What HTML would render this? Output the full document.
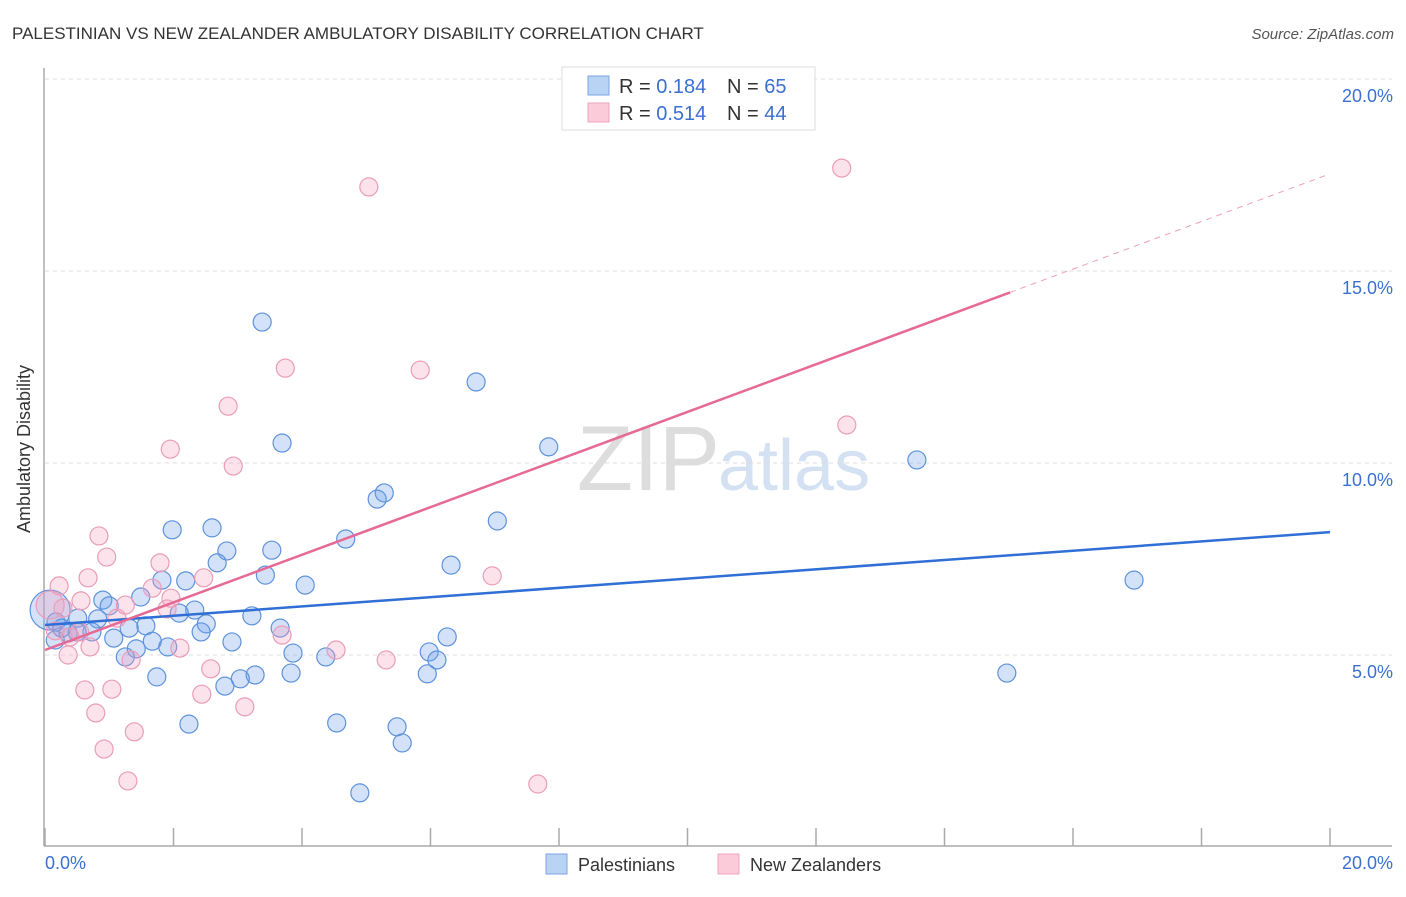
<!DOCTYPE html>
<html><head><meta charset="utf-8"><style>
body{margin:0;background:#fff;font-family:"Liberation Sans",sans-serif;}
svg text{font-family:"Liberation Sans",sans-serif;}
</style></head><body>
<svg id="chart" width="1406" height="892" xmlns="http://www.w3.org/2000/svg">
<text x="12" y="39" font-size="17" fill="#333">PALESTINIAN VS NEW ZEALANDER AMBULATORY DISABILITY CORRELATION CHART</text>
<text x="1394" y="39" font-size="15" fill="#555" font-style="italic" text-anchor="end">Source: ZipAtlas.com</text>
<text x="720" y="490" font-size="92" fill="#ddd" text-anchor="end" font-family="Liberation Serif">ZIP</text>
<text x="718" y="490" font-size="72" fill="#d3e1f3">atlas</text>
<g id="grid"></g>
<line x1="44" y1="68" x2="44" y2="846" stroke="#aaa" stroke-width="1.5"/>
<line x1="44" y1="846" x2="1392" y2="846" stroke="#aaa" stroke-width="1.5"/>
<g id="ticks"></g>
<text x="36" y="455" font-size="18" fill="#333" text-anchor="middle" transform="rotate(-90 30 455)">Ambulatory Disability</text>
<text x="45" y="869" font-size="18" fill="#3b6fd1">0.0%</text>
<text x="1393" y="869" font-size="18" fill="#3b6fd1" text-anchor="end">20.0%</text>
<g id="points"></g>
<g id="lines"></g>
<g>
<rect x="562" y="67" width="253" height="63" fill="#fff" stroke="#ddd"/>
<rect x="588" y="76" width="21" height="19" fill="#b9d3f4" stroke="#7aa6e4"/>
<rect x="588" y="103" width="21" height="19" fill="#fbcbd9" stroke="#eea4bd"/>
<text x="619" y="93" font-size="20" fill="#333">R = <tspan fill="#3b6fd1">0.184</tspan></text>
<text x="727" y="93" font-size="20" fill="#333">N = <tspan fill="#3b6fd1">65</tspan></text>
<text x="619" y="120" font-size="20" fill="#333">R = <tspan fill="#3b6fd1">0.514</tspan></text>
<text x="727" y="120" font-size="20" fill="#333">N = <tspan fill="#3b6fd1">44</tspan></text>
</g>
<g>
<rect x="546" y="854" width="21" height="20" fill="#b9d3f4" stroke="#7aa6e4"/>
<text x="578" y="871" font-size="18" fill="#333">Palestinians</text>
<rect x="718" y="854" width="21" height="20" fill="#fbcbd9" stroke="#eea4bd"/>
<text x="750" y="871" font-size="18" fill="#333">New Zealanders</text>
</g>
</svg>
<script>
const yTicks=[5,10,15,20];
const yTickLabels=["5.0%","10.0%","15.0%","20.0%"];
const xTickVals=[0,2,4,6,8,10,12,14,16,18,20];
const blueX=[3.38,6.71,3.69,7.84,13.57,5.28,5.17,7.04,1.98,2.60,4.68,2.83,3.53,2.68,6.32,3.43,16.95,1.82,2.19,4.05,1.49,0.90,1.00,2.33,2.09,3.22,0.51,0.82,0.17,2.51,1.57,1.31,3.66,2.43,0.73,0.36,0.50,1.07,6.26,2.91,1.67,1.91,1.42,3.86,5.98,1.25,6.10,4.37,3.27,3.83,14.97,3.04,1.74,5.95,2.80,2.24,4.54,5.48,5.56,4.90,0.08,0.16,0.26];
const blueY=[13.67,12.11,10.52,10.42,10.08,9.22,9.06,8.49,8.26,8.31,8.02,7.71,7.73,7.40,7.34,7.08,6.95,6.95,6.93,6.82,6.51,6.43,6.28,6.17,6.09,6.02,5.96,5.94,5.86,5.81,5.76,5.70,5.70,5.60,5.60,5.57,5.60,5.44,5.47,5.34,5.36,5.21,5.16,5.05,5.08,4.95,4.87,4.95,4.48,4.53,4.53,4.38,4.43,4.51,4.19,3.20,3.23,3.13,2.71,1.41,6.17,5.39,5.70];
const pinkX=[12.40,5.04,3.74,5.84,2.85,12.48,1.95,2.93,0.84,0.96,1.79,0.67,6.96,2.47,0.22,1.67,1.96,0.56,1.25,1.90,0.28,1.12,0.54,3.69,0.39,0.16,0.70,2.10,4.53,0.36,5.31,1.34,2.58,0.62,1.04,2.44,3.11,0.79,1.39,0.92,1.29,7.67,0.08];
const pinkY=[17.68,17.19,12.47,12.42,11.48,10.99,10.36,9.92,8.10,7.55,7.40,7.01,7.06,7.01,6.80,6.74,6.48,6.41,6.30,6.20,6.22,5.96,5.60,5.52,5.47,5.63,5.21,5.18,5.13,5.00,4.87,4.87,4.64,4.09,4.11,3.98,3.65,3.49,3.00,2.55,1.72,1.64,6.30];
const blueTrend=[5.78,8.20];
const pinkTrend=[5.13,17.53];
const pinkSolidEnd=15.02;
const NS="http://www.w3.org/2000/svg";
const xs=v=>45+v/20*1285;
const ys=v=>847-v/5*192;
function mk(tag,attrs,parent){const e=document.createElementNS(NS,tag);for(const k in attrs)e.setAttribute(k,attrs[k]);parent.appendChild(e);return e;}
const grid=document.getElementById('grid'),ticks=document.getElementById('ticks'),pts=document.getElementById('points'),lines=document.getElementById('lines');
yTicks.forEach((t,i)=>{
 const l=mk('line',{x1:45,x2:1392,y1:ys(t),y2:ys(t),stroke:'#ddd','stroke-dasharray':'4,4'},grid);
 
 
 const tx=mk('text',{x:1393,y:ys(t)+23,'font-size':18,fill:'#3b6fd1','text-anchor':'end'},ticks);
 tx.textContent=yTickLabels[i];
 
 
});
xTickVals.forEach(t=>{
 const l=mk('line',{x1:xs(t),x2:xs(t),y1:828,y2:846,stroke:'#aaa','stroke-width':1.5},ticks);
 
 
});
blueX.forEach((x,i)=>{
 const r=(i===60)?20:9;
 const c=mk('circle',{cx:xs(x),cy:ys(blueY[i]),r:r,fill:'rgba(110,160,235,0.3)',stroke:'#5e92dc','stroke-width':1.2},pts);
 
 
});
pinkX.forEach((x,i)=>{
 const r=(i===42)?14:9;
 const c=mk('circle',{cx:xs(x),cy:ys(pinkY[i]),r:r,fill:'rgba(245,160,190,0.3)',stroke:'#eb9cb8','stroke-width':1.2},pts);
 
 
});
const bl=mk('line',{x1:xs(0),y1:ys(blueTrend[0]),x2:xs(20),y2:ys(blueTrend[1]),stroke:'#2f6fd6','stroke-width':2.5},lines);


const pAt=x=>pinkTrend[0]+(pinkTrend[1]-pinkTrend[0])*x/20;
const pl=mk('line',{x1:xs(0),y1:ys(pAt(0)),x2:xs(pinkSolidEnd),y2:ys(pAt(pinkSolidEnd)),stroke:'#e66a94','stroke-width':2.5},lines);


const pd=mk('line',{x1:xs(pinkSolidEnd),y1:ys(pAt(pinkSolidEnd)),x2:xs(20),y2:ys(pAt(20)),stroke:'#eca0ba','stroke-width':1,'stroke-dasharray':'6,5'},lines);


</script>
</body></html>
